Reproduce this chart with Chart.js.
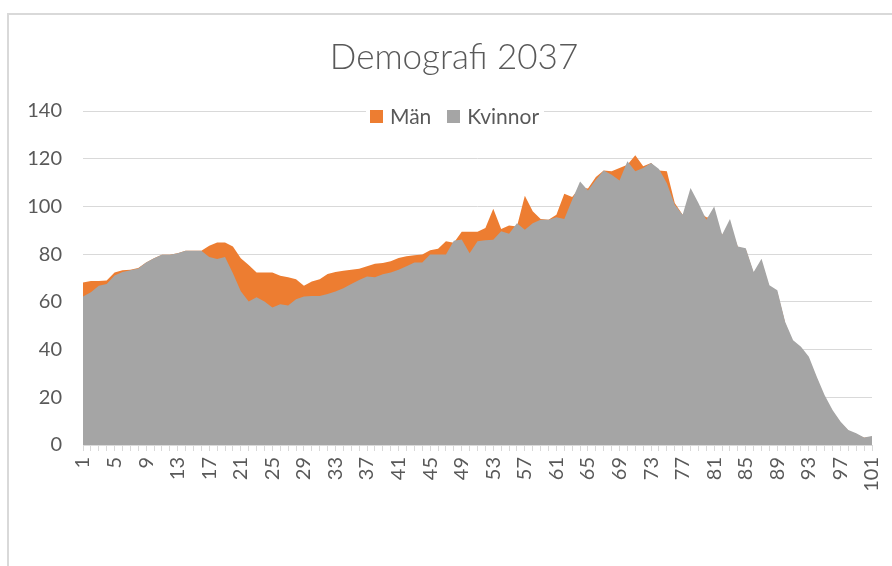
<!DOCTYPE html>
<html>
<head>
<meta charset="utf-8">
<script src="https://cdn.jsdelivr.net/npm/chart.js@4"></script>
<style>
  html, body { margin: 0; padding: 0; background: #fff; overflow: hidden; width: 892px; height: 566px; }
  #frame { position: absolute; left: 7px; top: 13px; width: 900px; height: 600px; border-left: 2px solid #d9d9d9; border-top: 2px solid #d9d9d9; }
  #chart { position: absolute; left: 0; top: 0; }
  #legend { position: absolute; left: 366px; top: 105px; height: 22px; line-height: 22px; background: #fff;
    padding: 0 5px 0 4px; display: flex; align-items: center; font-family: Lato, sans-serif; font-size: 21px; color: #595959; }
  #legend .key { display: inline-block; width: 13px; height: 13px; margin-right: 7px; }
  #legend .item { display: flex; align-items: center; margin-right: 16px; }
  #legend .item:last-child { margin-right: 0; }
</style>
</head>
<body>
<div id="frame"></div>
<canvas id="chart" width="902" height="566"></canvas>
<div id="legend"></div>
<script>
const ages = [1,2,3,4,5,6,7,8,9,10,11,12,13,14,15,16,17,18,19,20,
  21,22,23,24,25,26,27,28,29,30,31,32,33,34,35,36,37,38,39,40,
  41,42,43,44,45,46,47,48,49,50,51,52,53,54,55,56,57,58,59,60,
  61,62,63,64,65,66,67,68,69,70,71,72,73,74,75,76,77,78,79,80,
  81,82,83,84,85,86,87,88,89,90,91,92,93,94,95,96,97,98,99,100,101];

const man = [68.1,68.7,68.7,69,72.3,73.2,73.5,74.2,76.5,78.3,
  79.7,79.7,80.4,81.4,81.4,81.4,83.5,84.9,84.9,83.2,
  78.3,75.5,72.3,72.3,72.3,70.9,70.3,69.5,66.7,68.5,
  69.5,71.7,72.5,73,73.5,73.9,74.9,76,76.3,77,
  78.4,79.1,79.5,79.8,81.6,82.3,85.4,84.8,89.4,89.4,
  89.4,91,99,90.5,92,91.6,104.5,98,94.7,94.4,
  96.5,105.3,103.9,108,107.5,112.3,115.1,114.7,116.1,117.5,
  121.5,116.8,118.2,115.1,114.7,101.4,96.5,100,98,95.5,
  95,88,92,83,82,72,77,66,64,51,
  43,40.5,36,28,20,14,9.5,6,4.5,3,3.5];

const kvinnor = [62.2,64,66.7,67.5,71,72.5,73.3,74,76.5,78.3,
  79.7,79.7,80.4,81.4,81.4,81.4,78.8,78,78.8,72,
  64.4,60.2,61.9,60.2,57.6,59,58.5,61.1,62.2,62.5,
  62.5,63.3,64.3,65.7,67.5,69.2,70.6,70.3,71.6,72.3,
  73.5,74.9,76.5,76.5,79.8,79.8,79.8,85.6,86.1,80.4,
  85.4,85.8,86,89.6,88.6,93,90.2,93,94.4,94.4,
  95.5,94.7,102.8,110.5,106.7,111.2,115.1,113.3,110.9,118.9,
  114.7,116.1,118.2,115.7,109.7,100.7,96.5,107.7,101.4,94.4,
  100,88.1,94.7,83.2,82.5,72.5,78.1,67,64.9,51.6,
  43.9,41.2,37,28.6,20.9,14.7,9.8,6.3,4.9,3.1,3.8];

const seriesNames = ["Män", "Kvinnor"];
const seriesColors = ["#ED7D31", "#A5A5A5"];

// legend (Excel puts it over the plot, on top of the 140 gridline)
const legendEl = document.getElementById("legend");
seriesNames.forEach((name, i) => {
  const item = document.createElement("span");
  item.className = "item";
  const key = document.createElement("span");
  key.className = "key";
  key.style.background = seriesColors[i];
  item.appendChild(key);
  item.appendChild(document.createTextNode(name));
  legendEl.appendChild(item);
});

const font = "Lato, sans-serif";

new Chart(document.getElementById("chart"), {
  type: "line",
  data: {
    labels: ages,
    datasets: [
      { label: seriesNames[0], data: man, backgroundColor: seriesColors[0], fill: "origin", order: 1 },
      { label: seriesNames[1], data: kvinnor, backgroundColor: seriesColors[1], fill: "origin", order: 0 }
    ]
  },
  options: {
    responsive: false,
    animation: false,
    // canvas is a bit wider than the window so the title centre matches the original chart box
    layout: { padding: { left: 26, right: 20, top: 0, bottom: 0 } },
    elements: {
      line: { tension: 0, borderWidth: 0 },
      point: { radius: 0, hoverRadius: 0 }
    },
    plugins: {
      legend: { display: false },
      tooltip: { enabled: false },
      title: {
        display: true,
        text: "Demografi 2037",
        color: "#595959",
        font: { family: font, size: 35, weight: 300 },
        padding: { top: 37, bottom: 32 }
      }
    },
    scales: {
      x: {
        grid: { drawOnChartArea: false, drawTicks: true, tickLength: 6, color: "#d9d9d9" },
        border: { color: "#d9d9d9" },
        ticks: {
          autoSkip: false,
          maxRotation: 90,
          minRotation: 90,
          padding: 6,
          color: "#595959",
          font: { family: font, size: 20 },
          callback: (v, i) => (i % 4 === 0 ? String(ages[i]) : "")
        },
        afterFit: s => { s.height = 121; }
      },
      y: {
        min: 0,
        max: 140,
        grid: { color: "#d9d9d9", drawTicks: false },
        border: { display: false },
        ticks: {
          stepSize: 20,
          padding: 21,
          color: "#595959",
          font: { family: font, size: 20 }
        },
        afterFit: s => { s.width = 57; }
      }
    }
  }
});
</script>
</body>
</html>
